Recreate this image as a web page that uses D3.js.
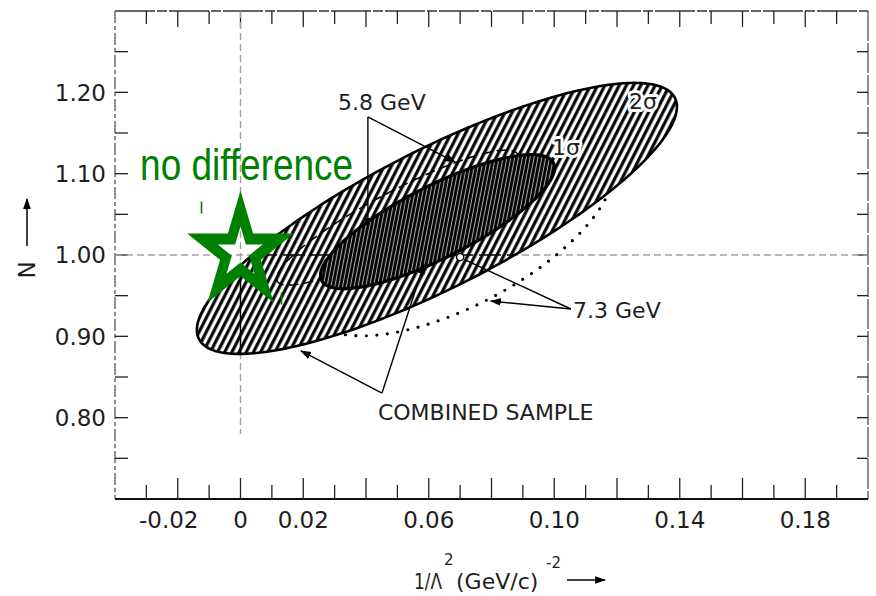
<!DOCTYPE html>
<html><head><meta charset="utf-8">
<script src="https://cdn.jsdelivr.net/npm/d3@7"></script>
<style>body{margin:0;background:#fff}svg{display:block}</style>
</head><body>
<svg id="c" width="876" height="596"></svg>
<script>
// ---------- data ----------
const xDomain = [-0.04, 0.20];
const yDomain = [0.70, 1.30];
const xTickValues = [-0.02, 0, 0.02, 0.06, 0.10, 0.14, 0.18];
const xTickText = ["-0.02", "0", "0.02", "0.06", "0.10", "0.14", "0.18"];
const yTickValues = [0.80, 0.90, 1.00, 1.10, 1.20];
const yTickText = ["0.80", "0.90", "1.00", "1.10", "1.20"];

// contours: centre, half-extent in x and y, correlation
const contourNames = ["combined 2σ", "combined 1σ", "5.8 GeV", "7.3 GeV"];
const contourCX = [0.0626, 0.0628, 0.0500, 0.0700];
const contourCY = [1.045, 1.041, 1.046, 1.0246];
const contourSX = [0.0765, 0.0373, 0.0385, 0.0490];
const contourSY = [0.1666, 0.0824, 0.0830, 0.1240];
const contourRho = [0.823, 0.803, 0.900, 0.641];

// 7.3 GeV best-fit point
const fitPointX = [0.0700];
const fitPointY = [0.9975];

// "no difference" point
const starX = [0.0];
const starY = [1.003];

// annotations
const annotText = ["5.8 GeV", "7.3 GeV", "COMBINED SAMPLE", "2σ", "1σ"];
const annotX = [0.0311, 0.1060, 0.0438, 0.1238, 0.0993];
const annotY = [1.1783, 0.9225, 0.7971, 1.1795, 1.1230];
const annotHalo = [false, false, false, true, true];
const hubX = [0.0406, 0.1053, 0.0451];
const hubY = [1.1697, 0.9336, 0.8303];
const leaderTX = [[0.0406, 0.0684], [0.0716, 0.0798], [0.0193, 0.0585]];
const leaderTY = [[1.0332, 1.1143], [0.9939, 0.9434], [0.8820, 0.9889]];
const leaderArrow = [[true, true], [false, true], [true, true]];

// ---------- drawing ----------
const svg = d3.select("#c");
const L = 115, R = 868, T = 11, B = 499;
const x = d3.scaleLinear().domain(xDomain).range([L, R]);
const y = d3.scaleLinear().domain(yDomain).range([B, T]);
const FONT = "'DejaVu Sans', sans-serif";
const INK = "#1e1e1e";

const defs = svg.append("defs");
const hb = defs.append("pattern").attr("id", "hatch").attr("patternUnits", "userSpaceOnUse")
  .attr("width", 6.4).attr("height", 6.4).attr("patternTransform", "rotate(27)");
hb.append("rect").attr("width", 6.4).attr("height", 6.4).attr("fill", "#fff");
hb.append("line").attr("x1", 1.7).attr("x2", 1.7).attr("y1", -1).attr("y2", 8).attr("stroke", "#000").attr("stroke-width", 3.1);

const hd = defs.append("pattern").attr("id", "hatchDark").attr("patternUnits", "userSpaceOnUse")
  .attr("width", 3.8).attr("height", 3.8).attr("patternTransform", "rotate(11)");
hd.append("rect").attr("width", 3.8).attr("height", 3.8).attr("fill", "#a8a8a8");
hd.append("line").attr("x1", 1.4).attr("x2", 1.4).attr("y1", -1).attr("y2", 5).attr("stroke", "#000").attr("stroke-width", 2.7);

const mk = defs.append("marker").attr("id", "arr").attr("viewBox", "0 0 10 10").attr("refX", 9).attr("refY", 5)
  .attr("markerWidth", 11).attr("markerHeight", 11).attr("markerUnits", "userSpaceOnUse").attr("orient", "auto");
mk.append("path").attr("d", "M0,1.5 L10,5 L0,8.5 Z").attr("fill", "#000");

function ellipse(i) {
  const pts = [], s = Math.sqrt(1 - contourRho[i] * contourRho[i]);
  for (let k = 0; k < 240; k++) {
    const t = 2 * Math.PI * k / 240;
    pts.push([contourCX[i] + contourSX[i] * Math.cos(t),
              contourCY[i] + contourSY[i] * (contourRho[i] * Math.cos(t) + s * Math.sin(t))]);
  }
  return pts;
}
const ln = d3.line().x(d => x(d[0])).y(d => y(d[1])).curve(d3.curveLinearClosed);

defs.append("clipPath").attr("id", "bigClip").append("path").attr("d", ln(ellipse(0)));

// frame
const frame = svg.append("g");
frame.append("line").attr("x1", L).attr("x2", R).attr("y1", T).attr("y2", T).attr("stroke", "#333").attr("stroke-width", 1.6).attr("stroke-dasharray", "40,2,10,2");
frame.append("line").attr("x1", L).attr("x2", L).attr("y1", T).attr("y2", B).attr("stroke", "#555").attr("stroke-width", 1.3).attr("stroke-dasharray", "12,3,4,3");
frame.append("line").attr("x1", R).attr("x2", R).attr("y1", T).attr("y2", B).attr("stroke", "#444").attr("stroke-width", 1.2).attr("stroke-dasharray", "30,2");
frame.append("line").attr("x1", L).attr("x2", R).attr("y1", B).attr("y2", B).attr("stroke", "#111").attr("stroke-width", 2);

// ticks
const xt = x.ticks(24).filter(v => v > xDomain[0] + 1e-9 && v < xDomain[1] - 1e-9);
xt.forEach(v => {
  const major = Math.round(v * 100) % 2 === 0;
  frame.append("line").attr("x1", x(v)).attr("x2", x(v)).attr("y1", B).attr("y2", B - (major ? 21 : 14)).attr("stroke", "#222").attr("stroke-width", 1.3);
  frame.append("line").attr("x1", x(v)).attr("x2", x(v)).attr("y1", T).attr("y2", T + (major ? 16 : 13)).attr("stroke", "#222").attr("stroke-width", 1.3);
});
const yt = y.ticks(12).filter(v => v > yDomain[0] + 1e-9 && v < yDomain[1] - 1e-9);
yt.forEach(v => {
  frame.append("line").attr("x1", L).attr("x2", L + 13).attr("y1", y(v)).attr("y2", y(v)).attr("stroke", "#222").attr("stroke-width", 1.3);
  frame.append("line").attr("x1", R).attr("x2", R - 11).attr("y1", y(v)).attr("y2", y(v)).attr("stroke", "#222").attr("stroke-width", 1.3);
});

// tick labels
svg.append("g").selectAll("text").data(xTickValues).join("text")
  .attr("x", d => x(d)).attr("y", 528).attr("dx", d => d < 0 ? -9 : 0)
  .attr("text-anchor", "middle").attr("font-family", FONT).attr("font-size", 23).attr("fill", INK)
  .text((d, i) => xTickText[i]);
svg.append("g").selectAll("text").data(yTickValues).join("text")
  .attr("x", 106).attr("y", d => y(d)).attr("dy", "0.36em")
  .attr("text-anchor", "end").attr("font-family", FONT).attr("font-size", 23).attr("fill", INK)
  .text((d, i) => yTickText[i]);

// axis titles
svg.append("text").attr("transform", "translate(35,270) rotate(-90)").attr("text-anchor", "middle")
  .attr("font-family", FONT).attr("font-size", 23).attr("fill", INK).text("N");
svg.append("line").attr("x1", 27).attr("x2", 27).attr("y1", 246).attr("y2", 199).attr("stroke", "#000").attr("stroke-width", 1.5).attr("marker-end", "url(#arr)");

const xTitle = svg.append("g").attr("font-family", FONT).attr("fill", INK);
xTitle.append("text").attr("x", 414).attr("y", 589).attr("font-size", 22)
  .attr("textLength", 28).attr("lengthAdjust", "spacingAndGlyphs").text("1/Λ");
xTitle.append("text").attr("x", 444).attr("y", 565).attr("font-size", 15).text("2");
xTitle.append("text").attr("x", 456).attr("y", 589).attr("font-size", 22).text("(GeV/c)");
xTitle.append("text").attr("x", 546).attr("y", 568).attr("font-size", 15).text("-2");
svg.append("line").attr("x1", 567).attr("x2", 605).attr("y1", 580).attr("y2", 580).attr("stroke", "#000").attr("stroke-width", 1.6).attr("marker-end", "url(#arr)");

// grid lines (dashed, faint)
svg.append("line").attr("x1", L).attr("x2", R).attr("y1", y(1.0)).attr("y2", y(1.0))
  .attr("stroke", "#a0a0a0").attr("stroke-width", 1.4).attr("stroke-dasharray", "7,4");
svg.append("line").attr("x1", x(0)).attr("x2", x(0)).attr("y1", T).attr("y2", y(0.78))
  .attr("stroke", "#a0a0a0").attr("stroke-width", 1.4).attr("stroke-dasharray", "7,4");

// 7.3 GeV contour (dotted)
svg.append("path").attr("d", ln(ellipse(3))).attr("fill", "none").attr("stroke", "#000")
  .attr("stroke-width", 3.2).attr("stroke-linecap", "round").attr("stroke-dasharray", "0,10.5");

// combined 2σ (hatched)
svg.append("path").attr("d", ln(ellipse(0))).attr("fill", "url(#hatch)").attr("stroke", "#000").attr("stroke-width", 2.6);

// grid lines show through inside the hatched region
const inside = svg.append("g").attr("clip-path", "url(#bigClip)");
inside.append("line").attr("x1", L).attr("x2", R).attr("y1", y(1.0)).attr("y2", y(1.0)).attr("stroke", "#000").attr("stroke-width", 1.3).attr("stroke-dasharray", "22,6");
inside.append("line").attr("x1", x(0)).attr("x2", x(0)).attr("y1", T).attr("y2", B).attr("stroke", "#000").attr("stroke-width", 1.5);

// 5.8 GeV contour (dashed)
svg.append("path").attr("d", ln(ellipse(2))).attr("fill", "none").attr("stroke", "#000")
  .attr("stroke-width", 1.5).attr("stroke-dasharray", "10,5");

// combined 1σ (dense dark hatch)
svg.append("path").attr("d", ln(ellipse(1))).attr("fill", "url(#hatchDark)").attr("stroke", "#000").attr("stroke-width", 3.2);

// 7.3 GeV best fit point
svg.selectAll(".fp").data(fitPointX).join("circle").attr("cx", d => x(d)).attr("cy", (d, i) => y(fitPointY[i]))
  .attr("r", 3.6).attr("fill", "#fff").attr("stroke", "#000").attr("stroke-width", 1.5);

// leader lines
hubX.forEach((hx, i) => {
  leaderTX[i].forEach((tx, j) => {
    svg.append("line").attr("x1", x(hx)).attr("y1", y(hubY[i])).attr("x2", x(tx)).attr("y2", y(leaderTY[i][j]))
      .attr("stroke", "#000").attr("stroke-width", 1.4)
      .attr("marker-end", leaderArrow[i][j] ? "url(#arr)" : null);
  });
});

// annotation labels
svg.append("g").selectAll("text").data(annotText).join("text")
  .attr("x", (d, i) => x(annotX[i])).attr("y", (d, i) => y(annotY[i]))
  .attr("font-family", FONT).attr("font-size", 22).attr("fill", INK)
  .attr("stroke", (d, i) => annotHalo[i] ? "#fff" : "none").attr("stroke-width", 6)
  .attr("stroke-linejoin", "round").attr("paint-order", "stroke")
  .text(d => d);

// green "no difference" star
const sx0 = x(starX[0]), sy0 = y(starY[0]);
const starPts = d3.range(10).map(k => {
  const a = -Math.PI / 2 + k * Math.PI / 5, r = k % 2 === 0 ? 40 : 40 * 0.382;
  return [r * Math.cos(a), r * Math.sin(a)];
});
svg.append("path").attr("d", "M" + starPts.map(p => p.join(",")).join("L") + "Z")
  .attr("transform", `translate(${sx0},${sy0}) scale(1,1.1)`)
  .attr("fill", "none").attr("stroke", "#008000").attr("stroke-width", 10)
  .attr("stroke-linejoin", "miter").attr("stroke-miterlimit", 10);
svg.append("line").attr("x1", sx0 - 39).attr("x2", sx0 - 39).attr("y1", sy0 - 51).attr("y2", sy0 - 39).attr("stroke", "#008000").attr("stroke-width", 1.6);
svg.append("line").attr("x1", sx0 + 41).attr("x2", sx0 + 41).attr("y1", sy0 + 40).attr("y2", sy0 + 52).attr("stroke", "#008000").attr("stroke-width", 1.6);
svg.append("text").attr("x", x(-0.032)).attr("y", y(1.0922))
  .attr("font-family", "'Liberation Sans Narrow','Liberation Sans',Arial,sans-serif").attr("font-size", 45)
  .attr("textLength", 213).attr("lengthAdjust", "spacingAndGlyphs")
  .attr("fill", "#008000").text("no difference");
</script>
</body></html>
